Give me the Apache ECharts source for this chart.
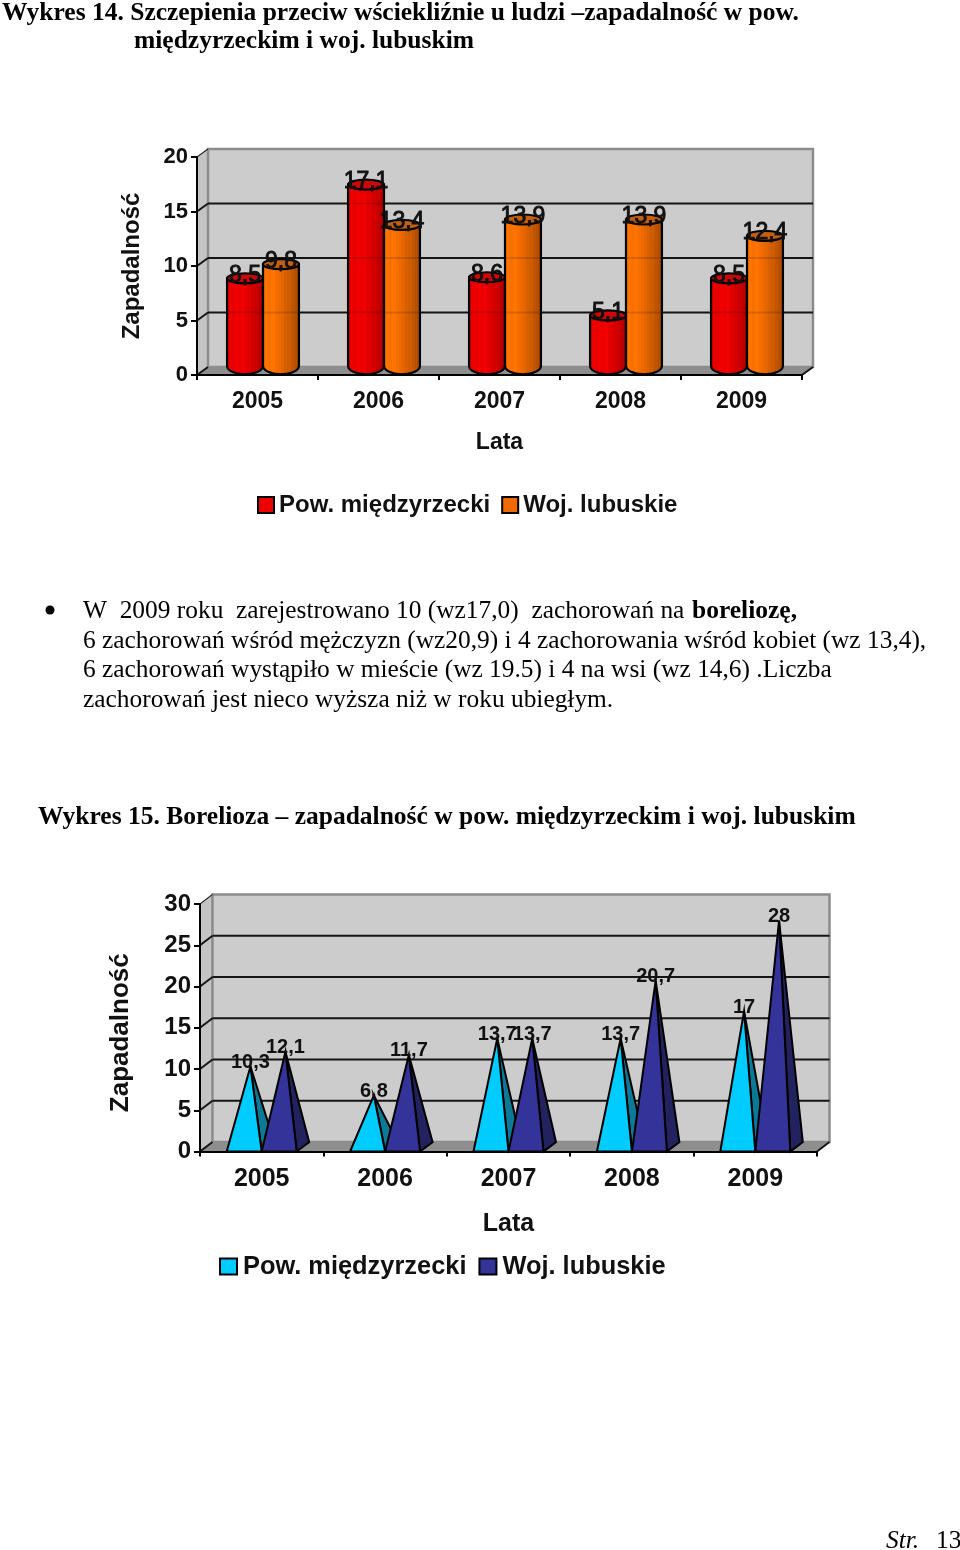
<!DOCTYPE html>
<html><head><meta charset="utf-8">
<style>html,body{margin:0;padding:0;background:#fff}#c{width:960px;height:1550px}</style>
<script src="https://cdn.jsdelivr.net/npm/echarts@6/dist/echarts.min.js"></script>
</head><body><div id="c"></div>
<script>
const years = ['2005','2006','2007','2008','2009'];
const seriesNames = ['Pow. międzyrzecki','Woj. lubuskie'];
const rabiesPow = [8.5,17.1,8.6,5.1,8.5];
const rabiesWoj = [9.8,13.4,13.9,13.9,12.4];
const borrelPow = [10.3,6.8,13.7,13.7,17];
const borrelWoj = [12.1,11.7,13.7,20.7,28];
const rabiesTicks = [0,5,10,15,20];
const borrelTicks = [0,5,10,15,20,25,30];
const yName = 'Zapadalność';
const xName = 'Lata';

const SANS = '"Liberation Sans",Arial,sans-serif';
const SERIF = '"Liberation Serif","Times New Roman",serif';
const fmt = v => String(v).replace('.',',');

const ch = echarts.init(document.getElementById('c'),null,{renderer:'canvas',width:960,height:1550});

function wall(ticks,dx,dy){
  return {
    type:'custom',coordinateSystem:'cartesian2d',xAxisIndex:ticks===rabiesTicks?0:1,yAxisIndex:ticks===rabiesTicks?0:1,
    silent:true,z:1,data:[[0,0]],encode:{x:0,y:1},
    renderItem(p,api){
      const c=p.coordSys,l=c.x,r=c.x+c.width,t=c.y,b=c.y+c.height,kids=[];
      kids.push({type:'polygon',shape:{points:[[l,t],[l+dx,t-dy],[l+dx,b-dy],[l,b]]},style:{fill:'#c4c4c4',stroke:'#909090',lineWidth:1.5}});
      kids.push({type:'rect',shape:{x:l+dx,y:t-dy,width:c.width,height:c.height},style:{fill:'#cccccc',stroke:'#8c8c8c',lineWidth:2.5}});
      kids.push({type:'polygon',shape:{points:[[l,b],[r,b],[r+dx,b-dy],[l+dx,b-dy]]},style:{fill:'#8e8e8e'}});
      ticks.forEach(v=>{
        const y=api.coord([0,v])[1];
        if(v>0&&v<ticks[ticks.length-1]) kids.push({type:'line',shape:{x1:l+dx,y1:y-dy,x2:r+dx,y2:y-dy},style:{stroke:'#151515',lineWidth:2}});
        kids.push({type:'line',shape:{x1:l,y1:y,x2:l+dx,y2:y-dy},style:{stroke:'#151515',lineWidth:v===ticks[ticks.length-1]?1:2}});
      });
      kids.push({type:'line',shape:{x1:r,y1:b,x2:r+dx,y2:b-dy},style:{stroke:'#151515',lineWidth:2}});
      return {type:'group',children:kids};
    }
  };
}

function bands(colors){
  const out=[];
  colors.forEach((c,i)=>{out.push({offset:i/colors.length,color:c});out.push({offset:(i+1)/colors.length,color:c});});
  return out;
}

function cylinder(name,values,idx,grad,topFill,dx,dy){
  return {
    type:'custom',name,coordinateSystem:'cartesian2d',xAxisIndex:0,yAxisIndex:0,z:3,silent:true,
    data:values.map((v,i)=>[i,v]),encode:{x:0,y:1},
    renderItem(p,api){
      const val=api.value(1);
      const base=api.coord([api.value(0),0]),top=api.coord([api.value(0),val]);
      const band=api.size([1,0])[0],w=band*0.297;
      const x0=base[0]+dx/2-w+idx*w,cx=x0+w/2,rx=w/2,ry=5;
      const yb=base[1]-dy/2,yt=top[1]-dy/2;
      const pts=[[x0,yt],[x0+w,yt],[x0+w,yb-ry]];
      for(let a=0;a<=12;a++){const t=a/12*Math.PI;pts.push([cx+rx*Math.cos(t),yb-ry+ry*1.65*Math.sin(t)]);}
      const kids=[
        {type:'polygon',z2:10,shape:{points:pts},style:{fill:{type:'linear',x:0,y:0,x2:1,y2:0,colorStops:bands(grad)},stroke:'#000',lineWidth:2.2}},
        {type:'ellipse',z2:12,shape:{cx,cy:yt,rx,ry},style:{fill:topFill,stroke:'#000',lineWidth:2.2}},
        {type:'text',z2:100,style:{text:fmt(val),x:cx,y:yt-3,textAlign:'center',textVerticalAlign:'middle',fill:'#111',font:'23px '+SANS,stroke:'#111',lineWidth:0.9}}
      ];
      rabiesTicks.forEach(v=>{
        if(v>0&&v<val){const y=api.coord([0,v])[1]-dy;
          kids.push({type:'line',z2:11,shape:{x1:x0+1,y1:y,x2:x0+w-1,y2:y},style:{stroke:'rgba(0,0,0,0.14)',lineWidth:2}});}
      });
      return {type:'group',children:kids};
    }
  };
}

function pyramid(name,values,idx,front,side,dx,dy){
  return {
    type:'custom',name,coordinateSystem:'cartesian2d',xAxisIndex:1,yAxisIndex:1,z:3,silent:true,
    data:values.map((v,i)=>[i,v]),encode:{x:0,y:1},
    renderItem(p,api){
      const base=api.coord([api.value(0),0]),top=api.coord([api.value(0),api.value(1)]);
      const w=api.size([1,0])[0]*0.2836;
      const x0=base[0]-w+idx*w,x1=x0+w,y=base[1];
      const ax=x0+w/2+dx/2,ay=top[1];
      return {type:'group',children:[
        {type:'polygon',z2:10,shape:{points:[[ax,ay],[x1,y],[x1+dx,y-dy]]},style:{fill:side,stroke:'#000',lineWidth:2}},
        {type:'polygon',z2:11,shape:{points:[[ax,ay],[x0,y],[x1,y]]},style:{fill:front,stroke:'#000',lineWidth:2}},
        {type:'text',z2:100,style:{text:fmt(api.value(1)),x:ax,y:ay-4,textAlign:'center',textVerticalAlign:'middle',fill:'#111',font:'bold 20px '+SANS}}
      ]};
    }
  };
}

const redBands=['#e40000','#ee0000','#e60000','#f20000','#ea0000','#f40000','#e40000','#dc0000','#d40000','#c80000','#bc0000','#a80000'];
const orangeBands=['#f46c00','#ff7400','#f87000','#ff7400','#f46e00','#ee6a00','#e46600','#d86000','#ce5c00','#c25600','#b65000','#a84800'];

function xAxis(gridIndex,size,gap,margin){
  return {type:'category',gridIndex,data:years,boundaryGap:true,z:5,
    axisLine:{show:true,lineStyle:{color:'#000',width:2}},
    axisTick:{show:true,alignWithLabel:false,length:5,lineStyle:{color:'#000',width:2}},
    axisLabel:{color:'#111',fontFamily:SANS,fontWeight:'bold',fontSize:size,margin},
    name:xName,nameLocation:'middle',nameGap:gap,nameTextStyle:{color:'#111',fontFamily:SANS,fontWeight:'bold',fontSize:size}};
}
function yAxis(gridIndex,ticks,size,gap,nameSize,namePad){
  return {type:'value',gridIndex,min:0,max:ticks[ticks.length-1],interval:5,z:5,
    axisLine:{show:true,lineStyle:{color:'#000',width:2}},
    axisTick:{show:true,length:6,lineStyle:{color:'#000',width:2}},
    splitLine:{show:false},
    axisLabel:{color:'#111',fontFamily:SANS,fontWeight:'bold',fontSize:size,margin:9,padding:[4,0,0,0]},
    name:yName,nameLocation:'middle',nameGap:gap,nameRotate:90,nameTextStyle:{color:'#111',fontFamily:SANS,fontWeight:'bold',fontSize:nameSize,padding:namePad}};
}
function legend(left,top,size,gap,icon,colors,pad){
  return {left,top,padding:0,orient:'horizontal',itemWidth:icon,itemHeight:16,itemGap:gap,selectedMode:false,
    textStyle:{color:'#111',fontFamily:SANS,fontWeight:'bold',fontSize:size,padding:pad},
    data:seriesNames.map((n,i)=>({name:n,icon:'rect',itemStyle:{color:colors[i],borderColor:'#000',borderWidth:2}}))};
}
const T=(text,x,y,font,extra)=>({type:'text',silent:true,style:Object.assign({text,x,y,font,fill:'#000',textAlign:'left',textVerticalAlign:'middle'},extra||{})});
const B='bold 25.5px '+SERIF,R='25.4px '+SERIF;

ch.setOption({
  animation:false,backgroundColor:'#fff',tooltip:{show:false},
  grid:[{left:197,top:157,width:605,height:218,containLabel:false},{left:200,top:904,width:617,height:247.5,containLabel:false}],
  xAxis:[xAxis(0,23,56,15),xAxis(1,25,60,15)],
  yAxis:[yAxis(0,rabiesTicks,22,53,24,[0,0,0,0]),yAxis(1,borrelTicks,24,66,26,[0,10,0,0])],
  legend:[legend(257,493,24,11,16,['#ee0000','#f06a00'],[0,0,0,0]),legend(219,1254,25.4,12,17,['#00ccff','#333399'],[0,0,0,1])],
  series:[
    wall(rabiesTicks,11,8),
    cylinder(seriesNames[0],rabiesPow,0,redBands,'#cc0808',11,8),
    cylinder(seriesNames[1],rabiesWoj,1,orangeBands,'#c46010',11,8),
    wall(borrelTicks,12.5,9.5),
    pyramid(seriesNames[0],borrelPow,0,'#00ccff','#0c7a96',12.5,9.5),
    pyramid(seriesNames[1],borrelWoj,1,'#333399','#22225f',12.5,9.5)
  ],
  graphic:{elements:[
    T('Wykres 14. Szczepienia przeciw wściekliźnie u ludzi –zapadalność w pow.',2,13,B),
    T('międzyrzeckim i woj. lubuskim',134,41,B),
    {type:'circle',silent:true,shape:{cx:50,cy:610,r:4.5},style:{fill:'#000'}},
    T('W  2009 roku  zarejestrowano 10 (wz17,0)  zachorowań na',83,611,R),
    T('boreliozę,',692,611,B),
    T('6 zachorowań wśród mężczyzn (wz20,9) i 4 zachorowania wśród kobiet (wz 13,4),',83,641,R),
    T('6 zachorowań wystąpiło w mieście (wz 19.5) i 4 na wsi (wz 14,6) .Liczba',83,670,R),
    T('zachorowań jest nieco wyższa niż w roku ubiegłym.',83,700,R),
    T('Wykres 15. Borelioza – zapadalność w pow. międzyrzeckim i woj. lubuskim',38,817,B),
    T('Str.',886,1541,'italic 25.4px '+SERIF),
    T('13',936,1541,R)
  ]}
});
</script></body></html>
